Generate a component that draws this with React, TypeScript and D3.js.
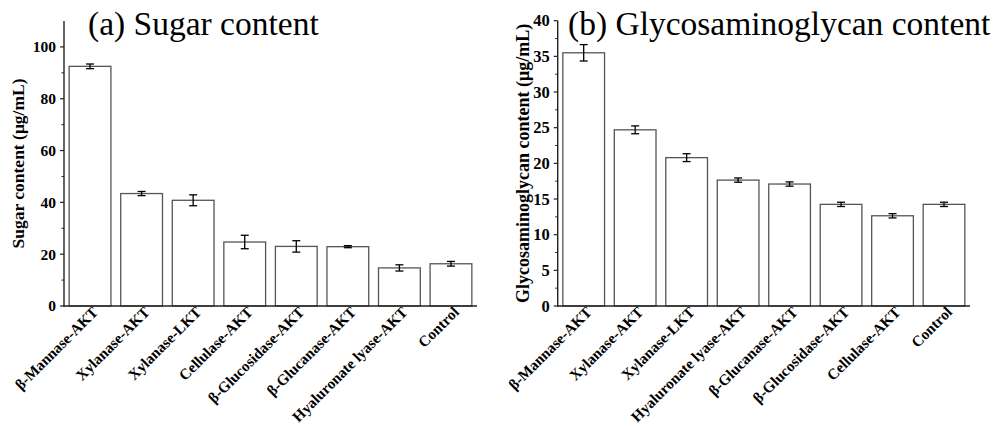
import React from 'react';
import * as d3 from 'd3';

// (a) sugar content
const sugarCats = ['β-Mannase-AKT', 'Xylanase-AKT', 'Xylanase-LKT', 'Cellulase-AKT', 'β-Glucosidase-AKT', 'β-Glucanase-AKT', 'Hyaluronate lyase-AKT', 'Control'];
const sugarVals = [92.5, 43.4, 40.8, 24.7, 23.0, 22.9, 14.7, 16.3];
const sugarErr = [0.9, 0.8, 2.1, 2.6, 2.2, 0.4, 1.2, 0.9];
const sugarTicks = [0, 20, 40, 60, 80, 100];
const sugarMinor = [10, 30, 50, 70, 90];

// (b) glycosaminoglycan content
const gagCats = ['β-Mannase-AKT', 'Xylanase-AKT', 'Xylanase-LKT', 'Hyaluronate lyase-AKT', 'β-Glucanase-AKT', 'β-Glucosidase-AKT', 'Cellulase-AKT', 'Control'];
const gagVals = [35.5, 24.7, 20.8, 17.65, 17.1, 14.25, 12.65, 14.25];
const gagErr = [1.15, 0.55, 0.55, 0.3, 0.3, 0.3, 0.3, 0.3];
const gagTicks = [0, 5, 10, 15, 20, 25, 30, 35, 40];
const gagMinor = [2.5, 7.5, 12.5, 17.5, 22.5, 27.5, 32.5, 37.5];

const serif = { fontFamily: "'Liberation Serif', 'Times New Roman', Times, 'DejaVu Serif', serif" };

type PanelProps = {
  left: number; right: number; top: number; bottom: number; maxY: number;
  cats: string[]; vals: number[]; errs: number[]; ticks: number[]; minor: number[];
  title: string; titleX: number; yLabel: string; yLabelX: number; yLabelSize: number; tickSize: number;
};

const Panel = (p: PanelProps) => {
  const x = d3.scaleBand().domain(p.cats).range([p.left, p.right]).paddingInner(0.19).paddingOuter(0.1);
  const y = d3.scaleLinear().domain([0, p.maxY]).range([p.bottom, p.top]);
  const yMid = (y(0) + y(p.maxY)) / 2;
  return (
    <g style={serif}>
      <text x={p.titleX} y={35} fontSize={33.5} fill="#000">{p.title}</text>
      <text transform={`translate(${p.yLabelX},${yMid}) rotate(-90)`} textAnchor="middle" dy="0.35em"
        fontWeight="bold" fontSize={p.yLabelSize} fill="#000">{p.yLabel}</text>
      {p.cats.map((c, i) => {
        const bx = x(c)!;
        const cx = bx + x.bandwidth() / 2;
        const v = p.vals[i];
        const e = p.errs[i];
        return (
          <g key={c}>
            <rect x={bx} y={y(v)} width={x.bandwidth()} height={y(0) - y(v)} fill="#fff" stroke="#555" strokeWidth={1.3} />
            <line x1={cx} x2={cx} y1={y(v - e)} y2={y(v + e)} stroke="#000" strokeWidth={1.3} />
            <line x1={cx - 4} x2={cx + 4} y1={y(v - e)} y2={y(v - e)} stroke="#000" strokeWidth={1.3} />
            <line x1={cx - 4} x2={cx + 4} y1={y(v + e)} y2={y(v + e)} stroke="#000" strokeWidth={1.3} />
            <text transform={`translate(${cx + 9},${p.bottom + 7}) rotate(-45)`} textAnchor="end"
              fontWeight="bold" fontSize={15.2} fill="#000">{c}</text>
          </g>
        );
      })}
      {/* axes */}
      <line x1={p.left} x2={p.left} y1={p.top} y2={p.bottom + 0.7} stroke="#222" strokeWidth={1.4} />
      <line x1={p.left - 0.7} x2={p.right} y1={p.bottom} y2={p.bottom} stroke="#222" strokeWidth={1.4} />
      {p.ticks.map(t => (
        <g key={t}>
          <line x1={p.left - 4} x2={p.left} y1={y(t)} y2={y(t)} stroke="#222" strokeWidth={1.2} />
          <text x={p.left - 8} y={y(t)} dy="0.35em" textAnchor="end" fontWeight="bold" fontSize={p.tickSize} fill="#000">{t}</text>
        </g>
      ))}
      {p.minor.map(t => (
        <line key={t} x1={p.left - 2.5} x2={p.left} y1={y(t)} y2={y(t)} stroke="#222" strokeWidth={1} />
      ))}
    </g>
  );
};

const App = () => {
  return (
    <svg width={995} height={427} style={{ position: 'absolute', left: 0, top: 0, background: '#fff' }}>
      <rect width={995} height={427} fill="#fff" />
      <Panel left={64} right={477} top={21} bottom={306} maxY={110}
        cats={sugarCats} vals={sugarVals} errs={sugarErr} ticks={sugarTicks} minor={sugarMinor}
        title="(a) Sugar content" titleX={88} yLabel="Sugar content (μg/mL)" yLabelX={18}
        yLabelSize={17.5} tickSize={15.5} />
      <Panel left={557.7} right={970} top={20.7} bottom={306} maxY={40}
        cats={gagCats} vals={gagVals} errs={gagErr} ticks={gagTicks} minor={gagMinor}
        title="(b) Glycosaminoglycan content" titleX={568} yLabel="Glycosaminoglycan content (μg/mL)" yLabelX={523}
        yLabelSize={18} tickSize={16.5} />
    </svg>
  );
};

export default App;
